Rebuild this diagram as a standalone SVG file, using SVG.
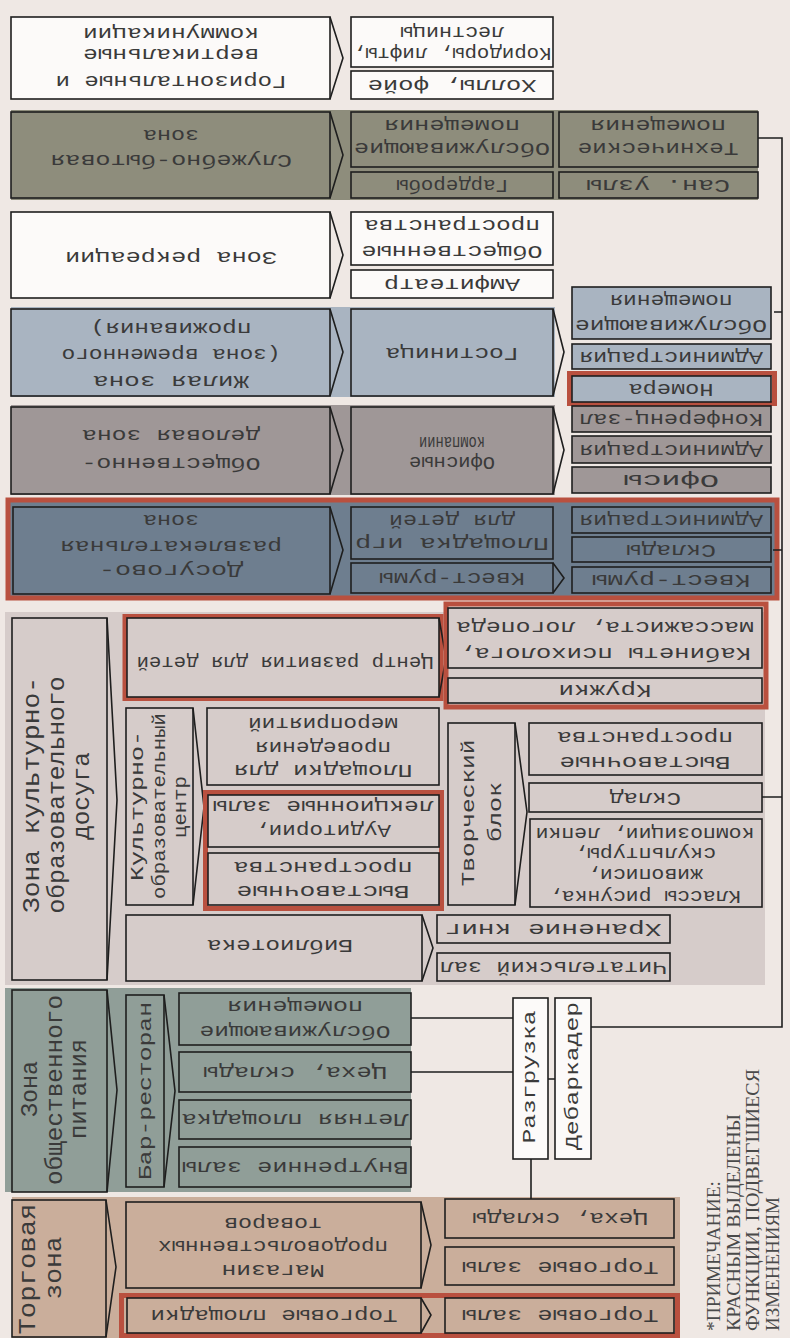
<svg xmlns="http://www.w3.org/2000/svg" width="790" height="1338" viewBox="0 0 790 1338">
<style>
.bx{stroke:#1e1e1e;stroke-width:1.6}
.cv{fill:none;stroke:#1e1e1e;stroke-width:1.6}
.w{fill:#fcfaf9}.ol{fill:#8e8d7c}.bl{fill:#a9b4c1}.mv{fill:#9f9797}.sl{fill:#6e7e8f}.lm{fill:#d6ccca}.gg{fill:#909e98}.tn{fill:#caae9b}
.rd{fill:none;stroke:#b9503f;stroke-width:5}
.t{font-family:"Liberation Mono","DejaVu Sans Mono",monospace;fill:#3a3a3a;dominant-baseline:central;text-anchor:middle;font-size:18px}
.v{font-size:24px}
.n{font-family:"Liberation Serif","DejaVu Serif",serif;fill:#4a4a4a;dominant-baseline:central;font-size:19px}
.ln{fill:none;stroke:#1e1e1e;stroke-width:1.6}
</style>
<rect width="790" height="1338" fill="#efe8e4"/>
<g id="bands">
<rect x="11" y="110" width="747" height="90" class="ol"/>
<rect x="11" y="307" width="544" height="90" class="bl"/>
<rect x="11" y="405" width="544" height="90" class="mv"/>
<rect x="8" y="500" width="769" height="98" class="sl" stroke="#b9503f" stroke-width="5"/>
<rect x="5" y="612" width="760" height="373" class="lm"/>
<rect x="5" y="988" width="406" height="204" class="gg"/>
<rect x="12" y="1197" width="668" height="141" class="tn"/>
</g>
<g id="connectors">
<path class="ln" d="M757,138 H782 V1027 H591"/>
<path class="ln" d="M774,312 H782 M773,550 H782 M762,797 H782"/>
<path class="ln" d="M411,1018 H513 M411,1072 H513 M548,1079 H555 M531,1159 V1199"/>
</g>
<g id="n-komm">
<rect x="11" y="17" width="319" height="82" class="bx w"/><polyline points="330,17 343,58 330,99" class="cv"/>
<text class="t" x="171" y="33" transform="rotate(180 171 33)" textLength="176" lengthAdjust="spacingAndGlyphs">коммуникации</text>
<text class="t" x="171" y="54" transform="rotate(180 171 54)" textLength="176" lengthAdjust="spacingAndGlyphs">вертикальные</text>
<text class="t" x="171" y="81" transform="rotate(180 171 81)" textLength="231" lengthAdjust="spacingAndGlyphs">Горизонтальные и</text>
</g>
<g id="n-korid">
<rect x="351" y="17" width="202" height="50" class="bx w"/>
<text class="t" x="452" y="32" font-size="16" transform="rotate(180 452 32)" textLength="104" lengthAdjust="spacingAndGlyphs">лестницы</text>
<text class="t" x="452" y="53" font-size="16" transform="rotate(180 452 53)" textLength="199" lengthAdjust="spacingAndGlyphs">Коридоры, лифты,</text>
</g>
<g id="n-holl">
<rect x="351" y="71" width="202" height="28" class="bx w"/>
<text class="t" x="452" y="85" transform="rotate(180 452 85)" textLength="169" lengthAdjust="spacingAndGlyphs">Холлы, фойе</text>
</g>
<g id="n-sluzh">
<rect x="11" y="112" width="319" height="86" class="bx ol"/><polyline points="330,112 343,155 330,198" class="cv"/>
<text class="t" x="171" y="135" transform="rotate(180 171 135)" textLength="56" lengthAdjust="spacingAndGlyphs">зона</text>
<text class="t" x="171" y="160" transform="rotate(180 171 160)" textLength="242" lengthAdjust="spacingAndGlyphs">Служебно-бытовая</text>
</g>
<g id="n-obsl1">
<rect x="351" y="112" width="202" height="55" class="bx ol"/>
<text class="t" x="452" y="125" transform="rotate(180 452 125)" textLength="136" lengthAdjust="spacingAndGlyphs">помещения</text>
<text class="t" x="452" y="148" transform="rotate(180 452 148)" textLength="196" lengthAdjust="spacingAndGlyphs">Обслуживающие</text>
</g>
<g id="n-gard">
<rect x="351" y="172" width="202" height="26" class="bx ol"/>
<text class="t" x="452" y="185" transform="rotate(180 452 185)" textLength="112" lengthAdjust="spacingAndGlyphs">Гардеробы</text>
</g>
<g id="n-tech">
<rect x="559" y="112" width="199" height="55" class="bx ol"/>
<text class="t" x="658" y="125" transform="rotate(180 658 125)" textLength="136" lengthAdjust="spacingAndGlyphs">помещения</text>
<text class="t" x="658" y="148" transform="rotate(180 658 148)" textLength="161" lengthAdjust="spacingAndGlyphs">Технические</text>
</g>
<g id="n-san">
<rect x="559" y="172" width="199" height="26" class="bx ol"/>
<text class="t" x="658" y="185" transform="rotate(180 658 185)" textLength="144" lengthAdjust="spacingAndGlyphs">Сан. узлы</text>
</g>
<g id="n-rekr">
<rect x="11" y="212" width="319" height="86" class="bx w"/><polyline points="330,212 343,255 330,298" class="cv"/>
<text class="t" x="171" y="257" transform="rotate(180 171 257)" textLength="212" lengthAdjust="spacingAndGlyphs">Зона рекреации</text>
</g>
<g id="n-obshprost">
<rect x="351" y="212" width="202" height="53" class="bx w"/>
<text class="t" x="452" y="225" transform="rotate(180 452 225)" textLength="176" lengthAdjust="spacingAndGlyphs">пространства</text>
<text class="t" x="452" y="251" transform="rotate(180 452 251)" textLength="181" lengthAdjust="spacingAndGlyphs">Общественные</text>
</g>
<g id="n-amf">
<rect x="351" y="270" width="202" height="28" class="bx w"/>
<text class="t" x="452" y="284" transform="rotate(180 452 284)" textLength="136" lengthAdjust="spacingAndGlyphs">Амфитеатр</text>
</g>
<g id="n-zhil">
<rect x="11" y="309" width="319" height="87" class="bx bl"/><polyline points="330,309 343,352 330,396" class="cv"/>
<text class="t" x="171" y="328" transform="rotate(180 171 328)" textLength="161" lengthAdjust="spacingAndGlyphs">проживания)</text>
<text class="t" x="171" y="354" transform="rotate(180 171 354)" textLength="219" lengthAdjust="spacingAndGlyphs">(зона временного</text>
<text class="t" x="171" y="381" transform="rotate(180 171 381)" textLength="156" lengthAdjust="spacingAndGlyphs">Жилая зона</text>
</g>
<g id="n-gost">
<rect x="351" y="309" width="202" height="87" class="bx bl"/><polyline points="553,309 564,352 553,396" class="cv"/>
<text class="t" x="452" y="353" transform="rotate(180 452 353)" textLength="133" lengthAdjust="spacingAndGlyphs">Гостиница</text>
</g>
<g id="n-obsl2">
<rect x="572" y="287" width="199" height="52" class="bx bl"/>
<text class="t" x="671" y="300" transform="rotate(180 671 300)" textLength="123" lengthAdjust="spacingAndGlyphs">помещения</text>
<text class="t" x="671" y="325" transform="rotate(180 671 325)" textLength="192" lengthAdjust="spacingAndGlyphs">Обслуживающие</text>
</g>
<g id="n-adm1">
<rect x="572" y="344" width="199" height="25" class="bx bl"/>
<text class="t" x="671" y="357" transform="rotate(180 671 357)" textLength="184" lengthAdjust="spacingAndGlyphs">Администрация</text>
</g>
<g id="n-nomera">
<rect x="569.5" y="373.5" width="205" height="30" class="rd"/>
<rect x="572" y="376" width="199" height="26" class="bx bl"/>
<text class="t" x="671" y="389" transform="rotate(180 671 389)" textLength="85" lengthAdjust="spacingAndGlyphs">Номера</text>
</g>
<g id="n-obdel">
<rect x="11" y="407" width="319" height="87" class="bx mv"/><polyline points="330,407 343,450 330,494" class="cv"/>
<text class="t" x="171" y="435" transform="rotate(180 171 435)" textLength="178" lengthAdjust="spacingAndGlyphs">деловая зона</text>
<text class="t" x="171" y="463" transform="rotate(180 171 463)" textLength="179" lengthAdjust="spacingAndGlyphs">Общественно-</text>
</g>
<g id="n-ofkomp">
<rect x="351" y="407" width="202" height="87" class="bx mv"/><polyline points="553,407 564,450 553,494" class="cv"/>
<text class="t" x="452" y="442" font-size="14" transform="rotate(180 452 442)" textLength="66" lengthAdjust="spacingAndGlyphs">компании</text>
<text class="t" x="452" y="462" font-size="18" transform="rotate(180 452 462)" textLength="86" lengthAdjust="spacingAndGlyphs">Офисные</text>
</g>
<g id="n-konf">
<rect x="572" y="406" width="199" height="26" class="bx mv"/>
<text class="t" x="671" y="419" transform="rotate(180 671 419)" textLength="184" lengthAdjust="spacingAndGlyphs">Конференц-зал</text>
</g>
<g id="n-adm2">
<rect x="572" y="436" width="199" height="27" class="bx mv"/>
<text class="t" x="671" y="450" transform="rotate(180 671 450)" textLength="184" lengthAdjust="spacingAndGlyphs">Администрация</text>
</g>
<g id="n-ofisy">
<rect x="572" y="467" width="199" height="26" class="bx mv"/>
<text class="t" x="671" y="480" transform="rotate(180 671 480)" textLength="96" lengthAdjust="spacingAndGlyphs">Офисы</text>
</g>
<g id="n-dosug">
<rect x="13" y="507" width="317" height="87" class="bx sl"/><polyline points="330,507 343,550 330,594" class="cv"/>
<text class="t" x="171" y="520" transform="rotate(180 171 520)" textLength="56" lengthAdjust="spacingAndGlyphs">зона</text>
<text class="t" x="171" y="546" transform="rotate(180 171 546)" textLength="222" lengthAdjust="spacingAndGlyphs">развлекательная</text>
<text class="t" x="171" y="570" transform="rotate(180 171 570)" textLength="144" lengthAdjust="spacingAndGlyphs">Досугово-</text>
</g>
<g id="n-plosh">
<rect x="351" y="507" width="202" height="52" class="bx sl"/>
<text class="t" x="452" y="520" transform="rotate(180 452 520)" textLength="126" lengthAdjust="spacingAndGlyphs">для детей</text>
<text class="t" x="452" y="543" transform="rotate(180 452 543)" textLength="194" lengthAdjust="spacingAndGlyphs">Площадка игр</text>
</g>
<g id="n-kvest1">
<rect x="351" y="563" width="202" height="30" class="bx sl"/><polyline points="553,563 564,578 553,593" class="cv"/>
<text class="t" x="452" y="578" transform="rotate(180 452 578)" textLength="146" lengthAdjust="spacingAndGlyphs">Квест-румы</text>
</g>
<g id="n-adm3">
<rect x="572" y="507" width="199" height="26" class="bx sl"/>
<text class="t" x="671" y="520" transform="rotate(180 671 520)" textLength="184" lengthAdjust="spacingAndGlyphs">Администрация</text>
</g>
<g id="n-sklady">
<rect x="572" y="537" width="199" height="25" class="bx sl"/>
<text class="t" x="671" y="550" transform="rotate(180 671 550)" textLength="90" lengthAdjust="spacingAndGlyphs">Склады</text>
</g>
<g id="n-kvest2">
<rect x="572" y="567" width="199" height="26" class="bx sl"/>
<text class="t" x="671" y="580" transform="rotate(180 671 580)" textLength="159" lengthAdjust="spacingAndGlyphs">Квест-румы</text>
</g>
<g id="n-kult">
<rect x="12" y="618" width="95" height="362" class="bx lm"/><polyline points="107,618 117,800 107,980" class="cv"/>
<text class="t v" x="32" y="795" transform="rotate(-90 32 795)" textLength="236" lengthAdjust="spacingAndGlyphs">Зона культурно-</text>
<text class="t v" x="57" y="795" transform="rotate(-90 57 795)" textLength="237" lengthAdjust="spacingAndGlyphs">образовательного</text>
<text class="t v" x="82" y="796" transform="rotate(-90 82 796)" textLength="88" lengthAdjust="spacingAndGlyphs">досуга</text>
</g>
<g id="n-centr">
<rect x="125" y="616.5" width="316" height="82" class="rd"/>
<rect x="127" y="618" width="312" height="79" class="bx lm"/><polyline points="439,618 446,658 439,697" class="cv"/>
<text class="t" x="285" y="662" font-size="16" transform="rotate(180 285 662)" textLength="297" lengthAdjust="spacingAndGlyphs">Центр развития для детей</text>
</g>
<g id="n-kabin">
<rect x="446" y="604" width="320" height="103" class="rd"/>
<rect x="448" y="608" width="314" height="60" class="bx lm"/>
<text class="t" x="605" y="627" transform="rotate(180 605 627)" textLength="298" lengthAdjust="spacingAndGlyphs">массажиста, логопеда</text>
<text class="t" x="605" y="653" transform="rotate(180 605 653)" textLength="292" lengthAdjust="spacingAndGlyphs">Кабинеты психолога,</text>
</g>
<g id="n-kruzh">
<rect x="448" y="678" width="314" height="25" class="bx lm"/>
<text class="t" x="605" y="690" transform="rotate(180 605 690)" textLength="93" lengthAdjust="spacingAndGlyphs">Кружки</text>
</g>
<g id="n-koc">
<rect x="126" y="708" width="67" height="197" class="bx lm"/><polyline points="193,708 204,807 193,905" class="cv"/>
<text class="t" x="138" y="806" font-size="20" transform="rotate(-90 138 806)" textLength="150" lengthAdjust="spacingAndGlyphs">Культурно-</text>
<text class="t" x="160" y="806" font-size="20" transform="rotate(-90 160 806)" textLength="186" lengthAdjust="spacingAndGlyphs">образовательный</text>
<text class="t" x="181" y="807" font-size="20" transform="rotate(-90 181 807)" textLength="62" lengthAdjust="spacingAndGlyphs">центр</text>
</g>
<g id="n-ploshmer">
<rect x="207" y="708" width="232" height="77" class="bx lm"/>
<text class="t" x="323" y="723" transform="rotate(180 323 723)" textLength="150" lengthAdjust="spacingAndGlyphs">мероприятий</text>
<text class="t" x="323" y="747" transform="rotate(180 323 747)" textLength="136" lengthAdjust="spacingAndGlyphs">проведения</text>
<text class="t" x="323" y="770" transform="rotate(180 323 770)" textLength="179" lengthAdjust="spacingAndGlyphs">Площадки для</text>
</g>
<g id="n-audit">
<rect x="205.5" y="792.5" width="236" height="116" class="rd"/>
<rect x="208" y="795" width="231" height="52" class="bx lm"/>
<text class="t" x="323" y="806" transform="rotate(180 323 806)" textLength="221" lengthAdjust="spacingAndGlyphs">лекционные залы</text>
<text class="t" x="323" y="830" transform="rotate(180 323 830)" textLength="136" lengthAdjust="spacingAndGlyphs">Аудитории,</text>
</g>
<g id="n-vyst1">
<rect x="208" y="853" width="231" height="52" class="bx lm"/>
<text class="t" x="323" y="867" transform="rotate(180 323 867)" textLength="179" lengthAdjust="spacingAndGlyphs">пространства</text>
<text class="t" x="323" y="891" transform="rotate(180 323 891)" textLength="173" lengthAdjust="spacingAndGlyphs">Выставочные</text>
</g>
<g id="n-tvor">
<rect x="448" y="723" width="67" height="182" class="bx lm"/><polyline points="515,723 527,812 515,905" class="cv"/>
<text class="t" x="469" y="813" font-size="22" transform="rotate(-90 469 813)" textLength="147" lengthAdjust="spacingAndGlyphs">Творческий</text>
<text class="t" x="496" y="812" font-size="22" transform="rotate(-90 496 812)" textLength="60" lengthAdjust="spacingAndGlyphs">блок</text>
</g>
<g id="n-vyst2">
<rect x="529" y="723" width="233" height="52" class="bx lm"/>
<text class="t" x="645" y="737" transform="rotate(180 645 737)" textLength="176" lengthAdjust="spacingAndGlyphs">пространства</text>
<text class="t" x="645" y="762" transform="rotate(180 645 762)" textLength="171" lengthAdjust="spacingAndGlyphs">Выставочные</text>
</g>
<g id="n-sklad">
<rect x="529" y="783" width="233" height="29" class="bx lm"/>
<text class="t" x="645" y="798" transform="rotate(180 645 798)" textLength="72" lengthAdjust="spacingAndGlyphs">Склад</text>
</g>
<g id="n-klassy">
<rect x="530" y="819" width="232" height="88" class="bx lm"/>
<text class="t" x="645" y="833" font-size="16" transform="rotate(180 645 833)" textLength="219" lengthAdjust="spacingAndGlyphs">композиции, лепки</text>
<text class="t" x="645" y="853" font-size="16" transform="rotate(180 645 853)" textLength="142" lengthAdjust="spacingAndGlyphs">скульптуры,</text>
<text class="t" x="645" y="874" font-size="16" transform="rotate(180 645 874)" textLength="116" lengthAdjust="spacingAndGlyphs">живописи,</text>
<text class="t" x="645" y="896" font-size="16" transform="rotate(180 645 896)" textLength="192" lengthAdjust="spacingAndGlyphs">Классы рисунка,</text>
</g>
<g id="n-bibl">
<rect x="126" y="915" width="296" height="66" class="bx lm"/><polyline points="422,915 433,948 422,981" class="cv"/>
<text class="t" x="280" y="945" transform="rotate(180 280 945)" textLength="146" lengthAdjust="spacingAndGlyphs">Библиотека</text>
</g>
<g id="n-hran">
<rect x="437" y="915" width="233" height="28" class="bx lm"/>
<text class="t" x="553" y="929" transform="rotate(180 553 929)" textLength="217" lengthAdjust="spacingAndGlyphs">Хранение книг</text>
</g>
<g id="n-chit">
<rect x="437" y="953" width="233" height="28" class="bx lm"/>
<text class="t" x="553" y="967" transform="rotate(180 553 967)" textLength="227" lengthAdjust="spacingAndGlyphs">Читательский зал</text>
</g>
<g id="n-pit">
<rect x="12" y="990" width="95" height="202" class="bx gg"/><polyline points="107,990 117,1090 107,1192" class="cv"/>
<text class="t v" x="30" y="1089" transform="rotate(-90 30 1089)" textLength="56" lengthAdjust="spacingAndGlyphs">Зона</text>
<text class="t v" x="55" y="1090" transform="rotate(-90 55 1090)" textLength="190" lengthAdjust="spacingAndGlyphs">общественного</text>
<text class="t v" x="79" y="1089" transform="rotate(-90 79 1089)" textLength="100" lengthAdjust="spacingAndGlyphs">питания</text>
</g>
<g id="n-bar">
<rect x="126" y="995" width="38" height="192" class="bx gg"/><polyline points="164,995 175,1091 164,1187" class="cv"/>
<text class="t" x="146" y="1091" font-size="22" transform="rotate(-90 146 1091)" textLength="178" lengthAdjust="spacingAndGlyphs">Бар-ресторан</text>
</g>
<g id="n-obsl3">
<rect x="179" y="993" width="232" height="52" class="bx gg"/>
<text class="t" x="295" y="1006" transform="rotate(180 295 1006)" textLength="136" lengthAdjust="spacingAndGlyphs">помещения</text>
<text class="t" x="295" y="1031" transform="rotate(180 295 1031)" textLength="191" lengthAdjust="spacingAndGlyphs">Обслуживающие</text>
</g>
<g id="n-ceh1">
<rect x="179" y="1052" width="232" height="40" class="bx gg"/>
<text class="t" x="295" y="1072" transform="rotate(180 295 1072)" textLength="184" lengthAdjust="spacingAndGlyphs">Цеха, склады</text>
</g>
<g id="n-letn">
<rect x="179" y="1100" width="232" height="39" class="bx gg"/>
<text class="t" x="295" y="1119" transform="rotate(180 295 1119)" textLength="227" lengthAdjust="spacingAndGlyphs">Летняя площадка</text>
</g>
<g id="n-vnutr">
<rect x="179" y="1147" width="232" height="40" class="bx gg"/>
<text class="t" x="295" y="1167" transform="rotate(180 295 1167)" textLength="227" lengthAdjust="spacingAndGlyphs">Внутренние залы</text>
</g>
<g id="n-razgr">
<rect x="513" y="998" width="35" height="161" class="bx w"/>
<text class="t" x="530" y="1077" font-size="22" transform="rotate(-90 530 1077)" textLength="133" lengthAdjust="spacingAndGlyphs">Разгрузка</text>
</g>
<g id="n-debark">
<rect x="555" y="998" width="36" height="161" class="bx w"/>
<text class="t" x="573" y="1076" font-size="22" transform="rotate(-90 573 1076)" textLength="148" lengthAdjust="spacingAndGlyphs">Дебаркадер</text>
</g>
<g id="n-torg">
<rect x="12" y="1200" width="94" height="137" class="bx tn"/><polyline points="106,1200 116,1267 106,1337" class="cv"/>
<text class="t v" x="28" y="1269" transform="rotate(-90 28 1269)" textLength="131" lengthAdjust="spacingAndGlyphs">Торговая</text>
<text class="t v" x="54" y="1268" transform="rotate(-90 54 1268)" textLength="63" lengthAdjust="spacingAndGlyphs">зона</text>
</g>
<g id="n-magaz">
<rect x="126" y="1202" width="295" height="86" class="bx tn"/><polyline points="421,1202 431,1245 421,1288" class="cv"/>
<text class="t" x="273" y="1223" transform="rotate(180 273 1223)" textLength="98" lengthAdjust="spacingAndGlyphs">товаров</text>
<text class="t" x="273" y="1246" transform="rotate(180 273 1246)" textLength="230" lengthAdjust="spacingAndGlyphs">продовольственных</text>
<text class="t" x="273" y="1270" transform="rotate(180 273 1270)" textLength="103" lengthAdjust="spacingAndGlyphs">Магазин</text>
</g>
<g id="n-ceh2">
<rect x="445" y="1199" width="229" height="39" class="bx tn"/>
<text class="t" x="560" y="1218" transform="rotate(180 560 1218)" textLength="176" lengthAdjust="spacingAndGlyphs">Цеха, склады</text>
</g>
<g id="n-tzal1">
<rect x="445" y="1247" width="229" height="38" class="bx tn"/>
<text class="t" x="560" y="1267" transform="rotate(180 560 1267)" textLength="197" lengthAdjust="spacingAndGlyphs">Торговые залы</text>
</g>
<rect x="121.5" y="1295.5" width="556" height="40" class="rd"/>
<g id="n-tplosh">
<rect x="127" y="1298" width="294" height="35" class="bx tn"/><polyline points="421,1298 431,1315 421,1333" class="cv"/>
<text class="t" x="274" y="1315" transform="rotate(180 274 1315)" textLength="247" lengthAdjust="spacingAndGlyphs">Торговые площадки</text>
</g>
<g id="n-tzal2">
<rect x="445" y="1298" width="229" height="35" class="bx tn"/>
<text class="t" x="560" y="1315" transform="rotate(180 560 1315)" textLength="197" lengthAdjust="spacingAndGlyphs">Торговые залы</text>
</g>
<g id="note">
<text class="n" x="713" y="1331" transform="rotate(-90 713 1331)" textLength="150" lengthAdjust="spacingAndGlyphs">*ПРИМЕЧАНИЕ:</text>
<text class="n" x="733" y="1331" transform="rotate(-90 733 1331)" textLength="217" lengthAdjust="spacingAndGlyphs">КРАСНЫМ ВЫДЕЛЕНЫ</text>
<text class="n" x="752" y="1331" transform="rotate(-90 752 1331)" textLength="262" lengthAdjust="spacingAndGlyphs">ФУНКЦИИ, ПОДВЕГШИЕСЯ</text>
<text class="n" x="772" y="1331" transform="rotate(-90 772 1331)" textLength="134" lengthAdjust="spacingAndGlyphs">ИЗМЕНЕНИЯМ</text>
</g>
</svg>
